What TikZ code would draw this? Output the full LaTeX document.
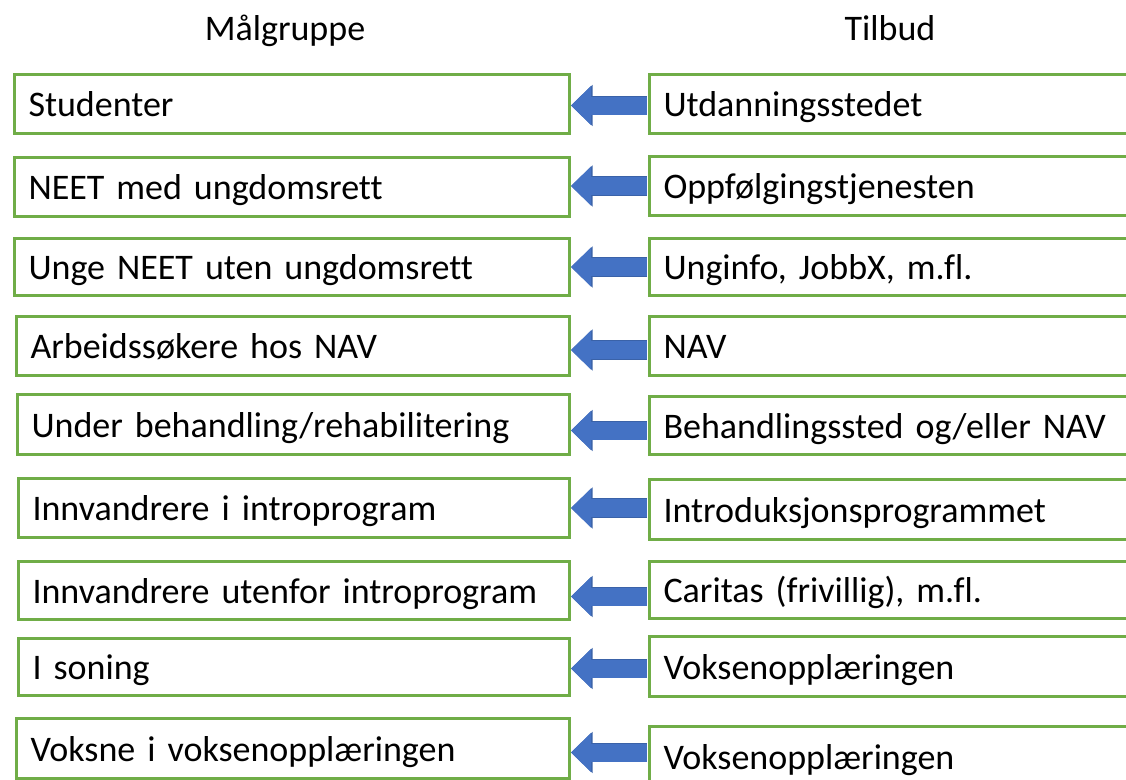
\documentclass[tikz,border=0pt]{standalone}
\usepackage{fontspec}
\setmainfont[Ligatures=NoCommon]{Carlito}
\usepackage{xcolor}
\usepackage{tikz}
\usetikzlibrary{arrows.meta}
\definecolor{grn}{HTML}{70AD47}
\definecolor{arrblue}{HTML}{4472C4}
\definecolor{arredge}{HTML}{3A62A8}

\begin{document}
\begin{tikzpicture}[x=1pt,y=-1pt,
  box/.style={draw=grn,line width=3pt,fill=white,anchor=north west,
    inner xsep=14pt,inner ysep=0pt,align=left,text height=27pt,text depth=2pt,
    font=\fontsize{36pt}{40pt}\selectfont},
  hdr/.style={anchor=base,font=\fontsize{36pt}{40pt}\selectfont},
  flow/.style={line width=18pt,arrblue,shorten <=1.5pt,
    preaction={draw=arredge,line width=19.5pt,
      -{Triangle[width=40pt,length=21.5pt]}},
    -{Triangle[width=38pt,length=20pt]}}]
  \useasboundingbox (0,0) rectangle (1126,779);
  \clip (0,0) rectangle (1126,779);
  \node[hdr] (hm) at (285,40) {Målgruppe};
  \node[hdr] (ht) at (890,40) {Tilbud};
  \foreach \i/\lx/\ly/\lh/\ry/\rh/\ay/\mlbl/\tlbl in {
      1/13/73/59/73/59/-1.5/{Studenter}/{Utdanningsstedet},
      2/13/156/59/155/59/1/{NEET med ungdomsrett}/{Oppfølgingstjenesten},
      3/13/237/57/237/57/0/{Unge NEET uten ungdomsrett}/{Unginfo, JobbX, m.fl.},
      4/15/315/59/315/59/-4/{Arbeidssøkere hos NAV}/{NAV},
      5/16/393/60/395/58/-6/{Under behandling/rehabilitering}/{Behandlingssted og/eller NAV},
      6/17/477/59/478/60/0/{Innvandrere i introprogram}/{Introduksjonsprogrammet},
      7/17/560/58/560/57/-6/{Innvandrere utenfor introprogram}/{Caritas (frivillig), m.fl.},
      8/17/637/57/635/60/-1.5/{I soning}/{Voksenopplæringen},
      9/15/717/60/725/60/-4/{Voksne i voksenopplæringen}/{Voksenopplæringen}}{
    \pgfmathsetmacro\tw{540-\lx}
    \node[box,text width=\tw pt,minimum height=\lh] (m\i) at (\lx,\ly) {\mlbl};
    \node[box,text width=500pt,minimum height=\rh] (t\i) at (648,\ry) {\tlbl};
    \coordinate (h\i) at ([yshift=\ay pt]m\i.east);
    \draw[flow] (t\i.west |- h\i) -- (h\i);
  }
\end{tikzpicture}
\end{document}
